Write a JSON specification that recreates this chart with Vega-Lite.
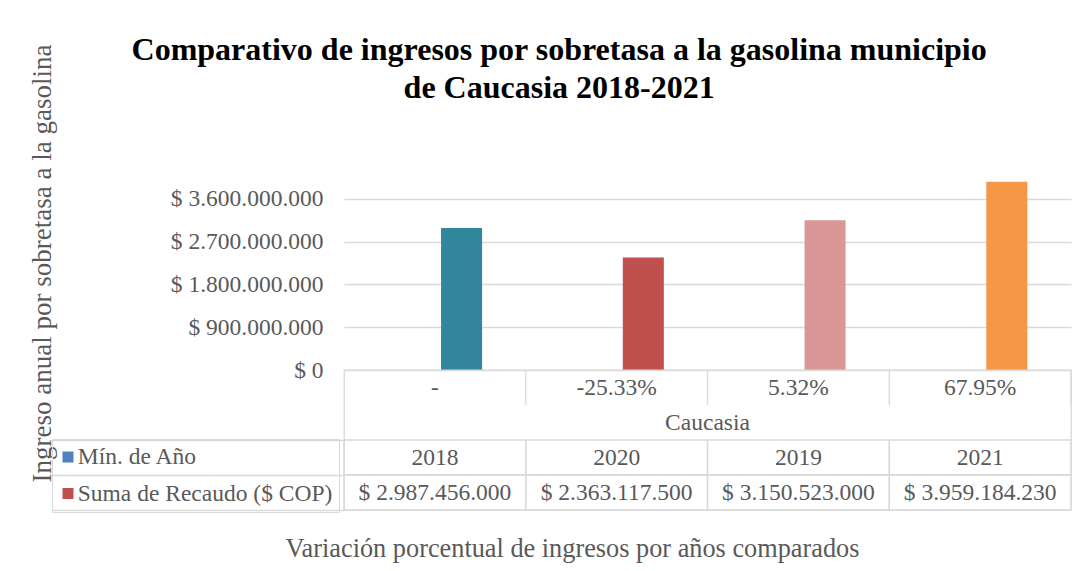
{
  "$schema": "https://vega.github.io/schema/vega-lite/v6.json",
  "padding": {"left": 28, "top": 34, "right": 16, "bottom": 8},
  "background": "white",
  "bounds": "flush",
  "spacing": 0,
  "resolve": {"scale": {"color": "independent"}, "legend": {"color": "independent"}},
  "title": {
    "text": ["Comparativo de ingresos por sobretasa a la gasolina municipio", "de Caucasia 2018-2021"],
    "font": "Liberation Serif",
    "fontSize": 32,
    "fontWeight": "bold",
    "color": "#000000",
    "lineHeight": 38,
    "anchor": "middle",
    "frame": "bounds",
    "offset": -61,
    "dx": 9
  },
  "data": {
    "values": [
      {"variacion": "-", "anio": "2018", "recaudo": 2987456000},
      {"variacion": "-25.33%", "anio": "2020", "recaudo": 2363117500},
      {"variacion": "5.32%", "anio": "2019", "recaudo": 3150523000},
      {"variacion": "67.95%", "anio": "2021", "recaudo": 3959184230}
    ]
  },
  "vconcat": [
    {
      "width": 727,
      "height": 214,
      "view": {"stroke": null},
      "mark": {"type": "bar", "width": {"band": 0.903}},
      "encoding": {
        "x": {"field": "variacion", "type": "nominal", "sort": null, "scale": {"paddingInner": 0, "paddingOuter": 0}, "axis": null},
        "xOffset": {"datum": "Suma de Recaudo ($ COP)", "type": "nominal",
          "scale": {"domain": ["Mín. de Año", "Suma de Recaudo ($ COP)"], "paddingInner": 0, "paddingOuter": 1, "align": 0.471}},
        "y": {
          "field": "recaudo", "type": "quantitative",
          "scale": {"domain": [0, 4500000000]},
          "axis": {
            "values": [0, 900000000, 1800000000, 2700000000, 3600000000],
            "format": "$,.0f",
            "title": "Ingreso anual por sobretasa a la gasolina",
            "titleFont": "Liberation Serif",
            "titleFontSize": 27,
            "titleFontWeight": "normal",
            "titleColor": "#595959",
            "titleX": -288,
            "titleBaseline": "bottom",
            "labelFont": "Liberation Serif",
            "labelFontSize": 23.5,
            "labelColor": "#595959",
            "labelPadding": 21,
            "domain": false,
            "ticks": false,
            "grid": true,
            "gridColor": "#D9D9D9",
            "gridWidth": 1.3
          }
        },
        "color": {
          "field": "anio", "type": "nominal", "sort": null,
          "scale": {"domain": ["2018", "2020", "2019", "2021"], "range": ["#31859C", "#C0504D", "#D99694", "#F79646"]},
          "legend": null
        }
      }
    },
    {
      "width": 727,
      "height": 140,
      "view": {"stroke": "#D9D9D9", "strokeWidth": 1.3},
      "layer": [
        {
          "mark": {"type": "rect", "fill": "transparent", "stroke": "#D9D9D9", "strokeWidth": 1.3},
          "encoding": {
            "x": {"field": "variacion", "type": "nominal", "sort": null, "scale": {"paddingInner": 0, "paddingOuter": 0},
              "title": "Variación porcentual de ingresos por años comparados",
              "axis": {"titleX": 228, "titlePadding": 25, "titleFont": "Liberation Serif", "titleFontSize": 26.3, "titleFontWeight": "normal", "titleColor": "#595959"}},
            "y": {"datum": "Mín. de Año", "type": "nominal",
              "scale": {"domain": ["Variación", "Municipio", "Mín. de Año", "Suma de Recaudo ($ COP)"], "paddingInner": 0, "paddingOuter": 0},
              "axis": {"title": null, "labels": false, "domain": false, "grid": false, "ticks": true, "tickSize": 292, "tickColor": "#D9D9D9", "tickWidth": 1.3, "bandPosition": 1,
                "tickOpacity": {"condition": {"test": "datum.value === 'Variación'", "value": 0}, "value": 1}}}
          }
        },
        {
          "mark": {"type": "rect", "fill": "transparent", "stroke": "#D9D9D9", "strokeWidth": 1.3},
          "encoding": {
            "x": {"field": "variacion", "type": "nominal", "sort": null, "title": "Variación porcentual de ingresos por años comparados"},
            "y": {"datum": "Suma de Recaudo ($ COP)", "type": "nominal"}
          }
        },
        {
          "mark": {"type": "tick", "orient": "vertical", "size": 35, "thickness": 1.3, "color": "#D9D9D9", "opacity": 1},
          "encoding": {
            "x": {"field": "variacion", "type": "nominal", "sort": null, "bandPosition": 1, "title": "Variación porcentual de ingresos por años comparados"},
            "y": {"datum": "Variación", "type": "nominal"}
          }
        },
        {
          "mark": {"type": "text", "font": "Liberation Serif", "fontSize": 23.5, "color": "#595959"},
          "encoding": {
            "x": {"field": "variacion", "type": "nominal", "sort": null, "title": "Variación porcentual de ingresos por años comparados"},
            "y": {"datum": "Variación", "type": "nominal"},
            "text": {"field": "variacion"}
          }
        },
        {
          "data": {"values": [{"municipio": "Caucasia"}]},
          "mark": {"type": "text", "font": "Liberation Serif", "fontSize": 23.5, "color": "#595959"},
          "encoding": {
            "y": {"datum": "Municipio", "type": "nominal"},
            "text": {"field": "municipio"}
          }
        },
        {
          "mark": {"type": "text", "font": "Liberation Serif", "fontSize": 23.5, "color": "#595959"},
          "encoding": {
            "x": {"field": "variacion", "type": "nominal", "sort": null, "title": "Variación porcentual de ingresos por años comparados"},
            "y": {"datum": "Mín. de Año", "type": "nominal"},
            "text": {"field": "anio"}
          }
        },
        {
          "mark": {"type": "text", "font": "Liberation Serif", "fontSize": 23.5, "color": "#595959"},
          "encoding": {
            "x": {"field": "variacion", "type": "nominal", "sort": null, "title": "Variación porcentual de ingresos por años comparados"},
            "y": {"datum": "Suma de Recaudo ($ COP)", "type": "nominal"},
            "text": {"field": "recaudo", "type": "quantitative", "format": "$,.0f"}
          }
        },
        {
          "mark": {"type": "square", "opacity": 0, "filled": true},
          "encoding": {
            "x": {"field": "variacion", "type": "nominal", "sort": null, "title": "Variación porcentual de ingresos por años comparados"},
            "y": {"datum": "Mín. de Año", "type": "nominal"},
            "color": {"datum": "Mín. de Año", "type": "nominal",
              "scale": {"domain": ["Mín. de Año", "Suma de Recaudo ($ COP)"], "range": ["#4F81BD", "#C0504D"]},
              "legend": {"orient": "none", "legendX": -292, "legendY": 69, "title": null, "symbolType": "square", "symbolSize": 121, "symbolOpacity": 1, "symbolStrokeWidth": 0, "symbolOffset": -2, "padding": 6.25, "rowPadding": 11.5, "labelOffset": -2, "labelFont": "Liberation Serif", "labelFontSize": 23.5, "labelColor": "#595959", "labelLimit": 400, "strokeColor": "#D9D9D9"}}
          }
        },
        {
          "mark": {"type": "square", "opacity": 0, "filled": true},
          "encoding": {
            "x": {"field": "variacion", "type": "nominal", "sort": null, "title": "Variación porcentual de ingresos por años comparados"},
            "y": {"datum": "Suma de Recaudo ($ COP)", "type": "nominal"},
            "color": {"datum": "Suma de Recaudo ($ COP)", "type": "nominal"}
          }
        }
      ]
    }
  ],
  "config": {
    "font": "Liberation Serif",
    "locale": {"number": {"decimal": ",", "thousands": ".", "grouping": [3], "currency": ["$ ", ""]}},
    "axis": {"labelFont": "Liberation Serif", "titleFont": "Liberation Serif"},
    "legend": {"labelFont": "Liberation Serif"},
    "text": {"font": "Liberation Serif"},
    "axisX": {"labels": false, "ticks": false, "domain": false, "grid": false}
  }
}
